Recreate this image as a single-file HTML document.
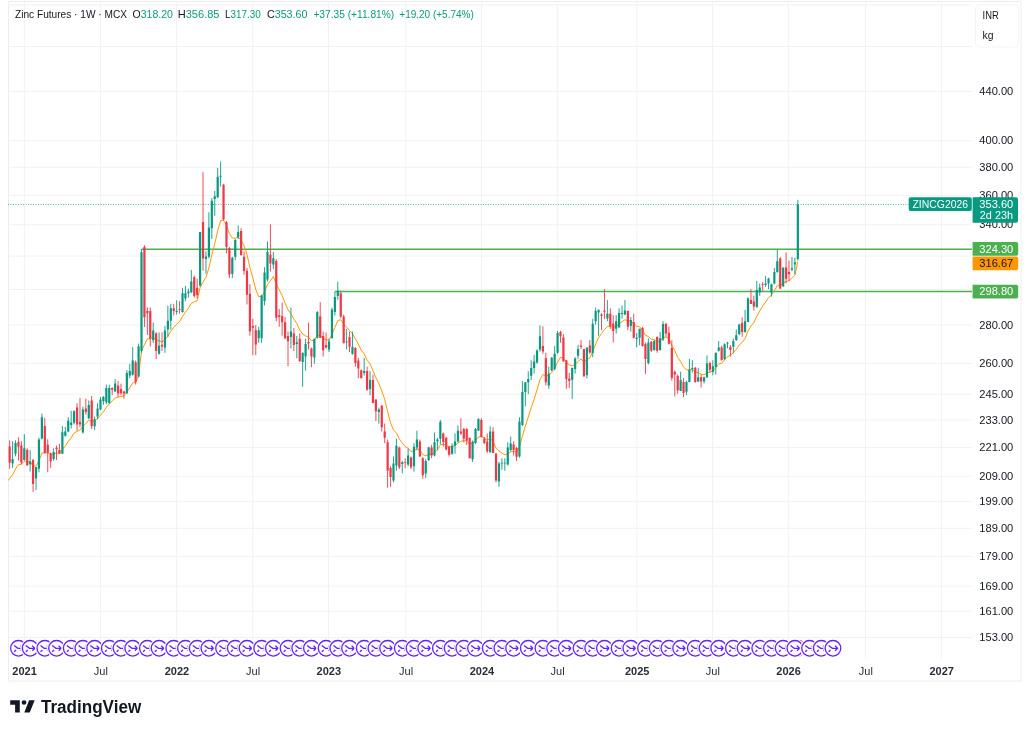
<!DOCTYPE html><html><head><meta charset="utf-8"><title>Zinc Futures 1W MCX</title><style>
html,body{margin:0;padding:0;background:#fff;width:1030px;height:731px;overflow:hidden}
body{position:relative;font-family:"Liberation Sans",Arial,sans-serif}
</style></head><body>
<svg width="1030" height="731" viewBox="0 0 1030 731" style="position:absolute;left:0;top:0">
<defs><clipPath id="pane"><rect x="8" y="1" width="964" height="658"/></clipPath></defs>
<rect x="8.5" y="1.5" width="1012.5" height="679.5" fill="#fff" stroke="#eceeed"/>
<path d="M8 5.15H972M8 46.52H972M8 91.50H972M8 140.77H972M8 167.28H972M8 195.23H972M8 224.77H972M8 256.11H972M8 289.47H972M8 325.13H972M8 363.44H972M8 394.15H972M8 420.11H972M8 447.44H972M8 476.30H972M8 501.64H972M8 528.29H972M8 556.39H972M8 586.11H972M8 611.18H972M8 637.52H972M24.30 1V659M100.60 1V659M176.70 1V659M252.80 1V659M328.50 1V659M405.80 1V659M481.60 1V659M557.30 1V659M636.90 1V659M712.60 1V659M788.30 1V659M865.60 1V659M941.40 1V659" stroke="#f0f2f1" stroke-width="1" fill="none"/>
<g clip-path="url(#pane)">
<line x1="8" y1="204.5" x2="908.7" y2="204.5" stroke="#089981" stroke-width="1" stroke-dasharray="1 1.5" stroke-opacity="0.7"/>
<line x1="141.50" y1="249.2" x2="972" y2="249.2" stroke="#4caf50" stroke-width="1.5"/>
<line x1="335" y1="291.5" x2="972" y2="291.5" stroke="#4caf50" stroke-width="1.5"/>
<polyline points="6.72,482.0 9.65,478.4 12.58,474.8 15.51,468.9 18.44,464.7 21.37,464.3 24.30,461.4 27.23,462.1 30.16,462.0 33.09,465.9 36.02,466.1 38.95,461.1 41.88,452.9 44.81,452.8 47.74,452.8 50.67,454.4 53.60,453.9 56.53,453.1 59.46,453.2 62.39,449.3 65.32,446.0 68.25,441.3 71.18,437.9 74.11,432.9 77.04,431.4 79.97,430.1 82.90,426.3 85.83,423.7 88.76,420.2 91.69,421.3 94.62,420.9 97.55,418.6 100.48,415.1 103.41,411.8 106.34,407.4 109.27,403.8 112.20,401.2 115.13,398.0 118.06,397.1 120.99,396.5 123.92,395.9 126.85,391.6 129.78,387.9 132.71,382.8 135.64,382.6 138.57,375.8 141.50,351.0 144.43,344.7 147.36,338.8 150.29,338.8 153.22,337.3 156.15,339.7 159.08,340.8 162.01,341.9 164.94,339.8 167.87,336.3 170.80,331.1 173.73,327.4 176.66,324.3 179.59,321.7 182.52,316.4 185.45,312.1 188.38,308.3 191.31,303.3 194.24,301.9 197.17,300.7 200.10,287.5 203.03,282.1 205.96,277.3 208.89,267.9 211.82,255.0 214.75,243.8 217.68,230.9 220.61,220.5 223.54,220.3 226.47,225.0 229.40,233.7 232.33,238.0 235.26,238.3 238.19,237.1 241.12,240.3 244.05,245.8 246.98,254.3 249.91,267.5 252.84,277.9 255.77,289.4 258.70,296.6 261.63,296.4 264.56,292.0 267.49,284.5 270.42,280.6 273.35,276.5 276.28,283.8 279.21,289.7 282.14,295.4 285.07,303.0 288.00,309.8 290.93,313.7 293.86,319.2 296.79,323.3 299.72,330.0 302.65,334.1 305.58,335.9 308.51,337.3 311.44,340.7 314.37,340.3 317.30,335.1 320.23,335.6 323.16,338.2 326.09,339.9 329.02,340.2 331.95,334.4 334.88,327.4 337.81,320.5 340.74,319.8 343.67,324.0 346.60,327.1 349.53,330.6 352.46,333.5 355.39,338.8 358.32,344.0 361.25,350.1 364.18,353.9 367.11,360.2 370.04,363.8 372.97,370.7 375.90,377.8 378.83,383.4 381.76,391.1 384.69,399.3 387.62,411.6 390.55,422.9 393.48,430.0 396.41,432.9 399.34,439.0 402.27,443.1 405.20,446.6 408.13,448.2 411.06,451.6 413.99,450.7 416.92,448.7 419.85,450.1 422.78,454.6 425.71,455.7 428.64,454.3 431.57,454.5 434.50,452.3 437.43,449.9 440.36,444.7 443.29,444.3 446.22,445.2 449.15,446.9 452.08,446.7 455.01,445.7 457.94,443.0 460.87,441.2 463.80,440.8 466.73,440.7 469.66,443.9 472.59,443.4 475.52,440.8 478.45,436.8 481.38,436.8 484.31,437.9 487.24,440.3 490.17,438.7 493.10,441.3 496.03,448.2 498.96,451.0 501.89,453.1 504.82,454.8 507.75,453.5 510.68,451.7 513.61,451.4 516.54,452.3 519.47,446.6 522.40,436.3 525.33,426.0 528.26,417.1 531.19,407.8 534.12,399.1 537.05,389.9 539.98,379.7 542.91,374.5 545.84,375.9 548.77,375.5 551.70,372.2 554.63,368.8 557.56,362.1 560.49,357.3 563.42,358.0 566.35,361.8 569.28,365.2 572.21,365.8 575.14,364.5 578.07,361.6 581.00,358.9 583.93,362.0 586.86,359.4 589.79,358.1 592.72,351.7 595.65,344.0 598.58,337.6 601.51,333.6 604.44,329.5 607.37,326.6 610.30,326.5 613.23,327.3 616.16,326.2 619.09,323.8 622.02,321.8 624.95,319.7 627.88,321.0 630.81,320.8 633.74,323.8 636.67,326.3 639.60,326.8 642.53,330.2 645.46,335.3 648.39,336.6 651.32,339.2 654.25,339.5 657.18,341.5 660.11,340.9 663.04,337.8 665.97,337.0 668.90,338.2 671.83,345.2 674.76,350.5 677.69,357.5 680.62,361.5 683.55,367.1 686.48,369.8 689.41,369.8 692.34,369.5 695.27,371.7 698.20,372.8 701.13,374.3 704.06,374.9 706.99,372.8 709.92,372.2 712.85,371.2 715.78,367.8 718.71,364.0 721.64,363.3 724.57,359.8 727.50,356.6 730.43,355.4 733.36,352.7 736.29,349.5 739.22,344.9 742.15,342.5 745.08,338.6 748.01,331.0 750.94,326.0 753.87,322.4 756.80,316.4 759.73,311.0 762.66,306.2 765.59,302.0 768.52,297.7 771.45,295.2 774.38,290.9 777.31,285.4 780.24,286.0 783.17,282.6 786.10,281.9 789.03,280.5 791.96,278.2 794.89,275.3 797.82,261.5" fill="none" stroke="#ff9800" stroke-width="1"/>
<path d="M12.58 441.2V467.9M15.51 440.3V456.3M24.30 434.1V460.7M30.16 450.1V471.4M36.02 467.0V490.1M38.95 437.6V472.3M41.88 413.6V439.4M53.60 448.3V460.7M62.39 426.0V453.6M65.32 426.9V436.7M68.25 417.2V432.3M71.18 410.8V428.6M74.11 410.3V424.5M82.90 406.7V433.4M88.76 400.5V419.2M94.62 416.5V429.9M97.55 403.2V419.2M100.48 396.9V410.3M103.41 396.0V404.9M106.34 384.5V404.1M109.27 384.5V404.1M115.13 379.1V391.6M126.85 370.2V393.4M129.78 364.0V378.3M132.71 347.1V375.6M138.57 343.6V377.4M141.50 249.2V352.8M153.22 322.5V343.0M159.08 332.3V354.6M164.94 326.1V352.8M167.87 305.6V336.8M170.80 303.8V329.6M176.66 300.3V314.5M182.52 287.8V312.7M185.45 286.0V301.2M188.38 288.7V297.6M191.31 270.0V293.2M200.10 231.9V286.8M205.96 251.4V273.7M208.89 212.3V258.5M211.82 198.0V239.0M214.75 190.9V215.8M217.68 167.8V198.0M220.61 161.6V186.5M232.33 256.8V278.1M235.26 239.0V260.3M238.19 225.6V239.0M258.70 326.8V342.8M261.63 294.7V342.8M264.56 267.2V305.4M267.49 241.4V281.4M273.35 252.0V268.9M290.93 307.6V348.5M296.79 336.0V358.3M302.65 352.1V386.8M305.58 338.7V370.7M314.37 338.7V363.6M317.30 311.1V338.7M329.02 338.7V352.1M331.95 307.6V338.7M334.88 291.6V315.6M337.81 281.8V299.6M346.60 328.9V349.4M352.46 331.6V354.7M364.18 357.8V375.6M370.04 371.1V395.2M378.83 407.6V423.6M393.48 456.5V482.3M396.41 438.7V470.7M402.27 461.0V473.4M408.13 448.5V466.3M413.99 443.2V471.6M416.92 430.7V450.3M425.71 459.2V477.9M428.64 446.7V461.0M434.50 432.5V456.5M437.43 437.8V450.3M440.36 420.0V444.1M452.08 443.2V454.7M455.01 433.4V453.8M457.94 425.4V442.3M472.59 440.5V461.9M475.52 428.0V444.1M478.45 418.3V430.7M490.17 426.3V453.0M498.96 461.9V486.8M501.89 458.3V469.9M504.82 458.3V470.7M507.75 442.3V465.4M510.68 436.5V451.2M519.47 417.2V457.7M522.40 381.1V426.0M525.33 382.2V406.3M528.26 371.3V394.3M531.19 360.3V380.0M534.12 354.9V373.5M537.05 349.4V363.6M539.98 325.3V351.6M548.77 366.9V388.8M551.70 357.1V371.3M554.63 346.1V370.2M557.56 330.8V353.8M572.21 367.5V398.9M575.14 357.2V373.6M578.07 344.9V359.2M586.86 347.6V378.4M592.72 318.9V357.2M595.65 307.6V324.7M598.58 309.7V335.7M607.37 300.1V321.3M616.16 315.1V333.6M619.09 308.3V327.5M622.02 305.6V318.6M624.95 300.1V315.1M630.81 317.2V331.6M636.67 332.9V347.3M639.60 328.8V345.2M648.39 338.4V364.4M654.25 339.8V350.7M660.11 332.1V350.6M663.04 321.2V341.0M680.62 371.8V391.0M686.48 380.7V395.1M689.41 358.8V382.1M692.34 360.2V372.5M698.20 367.7V382.1M704.06 376.6V383.4M706.99 355.4V378.0M712.85 360.2V375.2M715.78 352.7V374.6M718.71 341.0V351.6M724.57 343.4V360.0M727.50 341.8V348.3M733.36 338.5V353.3M736.29 329.5V341.0M739.22 323.7V335.2M745.08 309.8V332.7M748.01 297.5V322.1M756.80 281.0V307.3M759.73 283.5V295.8M765.59 276.1V286.8M768.52 277.8V289.2M771.45 283.5V296.6M774.38 267.9V284.3M777.31 249.8V272.8M783.17 267.5V287.1M791.96 257.0V271.3M794.89 257.7V274.3M797.82 199.8V260.5" stroke="#089981" stroke-width="0.9" fill="none"/><path d="M9.65 440.3V468.8M18.44 437.3V460.7M21.37 441.2V464.3M27.23 448.3V466.1M33.09 459.0V491.9M44.81 418.0V453.6M47.74 439.4V472.3M50.67 452.7V467.9M56.53 445.6V459.9M59.46 443.8V453.6M77.04 403.2V430.7M79.97 397.8V427.2M85.83 398.7V414.7M91.69 396.0V429.0M112.20 387.2V395.2M118.06 380.9V396.9M120.99 383.6V395.2M123.92 390.7V398.7M135.64 360.5V384.5M144.43 245.1V327.0M147.36 307.4V335.0M150.29 307.4V346.5M156.15 332.3V359.0M162.01 332.3V351.0M173.73 303.8V315.4M179.59 301.2V313.6M194.24 275.4V297.6M197.17 278.9V298.5M203.03 172.2V270.8M223.54 183.8V220.3M226.47 221.2V253.2M229.40 247.0V278.1M241.12 228.3V255.9M244.05 251.4V274.6M246.98 268.0V304.5M249.91 284.1V335.7M252.84 318.8V355.2M255.77 325.0V355.2M270.42 224.4V271.6M276.28 259.1V321.4M279.21 309.0V326.8M282.14 302.7V335.7M285.07 317.0V339.2M288.00 331.6V366.3M293.86 328.0V351.2M299.72 333.4V361.9M308.51 322.7V349.4M311.44 347.6V367.2M320.23 302.2V337.8M323.16 331.6V356.5M326.09 332.5V348.5M340.74 290.7V318.3M343.67 314.7V343.2M349.53 331.6V352.1M355.39 347.1V366.7M358.32 357.8V378.3M361.25 369.4V378.3M367.11 366.7V390.7M372.97 374.7V403.2M375.90 399.6V421.0M381.76 404.9V431.6M384.69 423.6V443.2M387.62 439.6V487.7M390.55 466.3V486.8M399.34 446.7V469.0M405.20 458.3V468.1M411.06 456.5V469.0M419.85 439.6V456.5M422.78 457.4V478.8M431.57 444.9V458.3M443.29 432.5V446.7M446.22 436.9V450.3M449.15 445.8V456.5M460.87 418.3V435.2M463.80 428.0V442.3M466.73 428.0V444.9M469.66 437.8V458.3M481.38 418.3V436.9M484.31 436.9V444.1M487.24 433.4V453.0M493.10 427.2V453.0M496.03 453.0V482.3M513.61 441.3V455.5M516.54 446.8V461.0M542.91 326.4V353.8M545.84 352.7V385.5M560.49 330.8V342.8M563.42 334.1V361.4M566.35 360.3V388.8M569.28 372.9V388.0M581.00 340.1V349.0M583.93 349.0V376.3M589.79 340.1V353.8M601.51 313.1V330.2M604.44 289.2V319.2M610.30 308.3V328.8M613.23 315.1V342.5M627.88 310.4V330.2M633.74 313.8V338.4M642.53 326.8V346.6M645.46 342.5V374.0M651.32 341.1V352.1M657.18 336.3V352.8M665.97 322.6V336.9M668.90 326.7V344.5M671.83 340.4V380.7M674.76 370.5V396.4M677.69 374.6V393.7M683.55 378.0V397.1M695.27 367.0V382.8M701.13 374.6V387.6M709.92 361.6V372.5M721.64 345.9V360.7M730.43 345.1V356.5M742.15 317.2V336.8M750.94 289.2V304.0M753.87 295.8V310.6M762.66 281.9V290.9M780.24 257.0V289.3M786.10 252.5V283.3M789.03 260.7V281.0" stroke="#f23645" stroke-width="0.9" fill="none"/><path d="M11.48 459.0h2.2v4.4h-2.2zM14.41 443.0h2.2v10.7h-2.2zM23.20 448.3h2.2v11.6h-2.2zM29.06 461.6h2.2v2.7h-2.2zM34.92 467.0h2.2v11.6h-2.2zM37.85 439.4h2.2v29.4h-2.2zM40.78 417.2h2.2v21.4h-2.2zM52.50 451.9h2.2v7.1h-2.2zM61.29 432.3h2.2v21.4h-2.2zM64.22 431.4h2.2v4.4h-2.2zM67.15 420.7h2.2v10.7h-2.2zM70.08 422.6h2.2v2.5h-2.2zM73.01 411.2h2.2v11.6h-2.2zM81.80 409.4h2.2v23.1h-2.2zM87.66 404.9h2.2v13.3h-2.2zM93.52 419.2h2.2v7.1h-2.2zM96.45 408.5h2.2v8.0h-2.2zM99.38 399.6h2.2v9.8h-2.2zM102.31 396.9h2.2v4.4h-2.2zM105.24 388.0h2.2v14.2h-2.2zM108.17 388.0h2.2v15.1h-2.2zM114.03 383.6h2.2v8.0h-2.2zM125.75 372.9h2.2v20.5h-2.2zM128.68 371.1h2.2v4.4h-2.2zM131.61 360.5h2.2v14.2h-2.2zM137.47 346.2h2.2v30.2h-2.2zM140.40 252.2h2.2v98.8h-2.2zM152.12 330.5h2.2v9.8h-2.2zM157.98 345.7h2.2v8.0h-2.2zM163.84 330.5h2.2v16.9h-2.2zM166.77 320.7h2.2v8.9h-2.2zM169.70 308.3h2.2v12.5h-2.2zM175.56 311.0h2.2v0.9h-2.2zM181.42 293.2h2.2v18.7h-2.2zM184.35 293.2h2.2v5.3h-2.2zM187.28 291.4h2.2v1.8h-2.2zM190.21 281.6h2.2v10.7h-2.2zM199.00 231.9h2.2v53.6h-2.2zM204.86 256.4h2.2v2.5h-2.2zM207.79 227.4h2.2v29.4h-2.2zM210.72 200.7h2.2v27.6h-2.2zM213.65 196.3h2.2v2.7h-2.2zM216.58 176.7h2.2v20.5h-2.2zM219.51 175.8h2.2v0.9h-2.2zM231.23 257.7h2.2v16.0h-2.2zM234.16 239.9h2.2v16.9h-2.2zM237.09 231.9h2.2v5.3h-2.2zM257.60 330.3h2.2v8.0h-2.2zM260.53 295.6h2.2v42.7h-2.2zM263.46 272.5h2.2v28.5h-2.2zM266.39 252.0h2.2v27.6h-2.2zM272.25 258.3h2.2v6.2h-2.2zM289.83 331.6h2.2v5.3h-2.2zM295.69 342.3h2.2v1.8h-2.2zM301.55 353.0h2.2v8.9h-2.2zM304.48 344.1h2.2v12.5h-2.2zM313.27 338.7h2.2v18.7h-2.2zM316.20 312.0h2.2v25.8h-2.2zM327.92 341.4h2.2v8.0h-2.2zM330.85 309.4h2.2v28.5h-2.2zM333.78 296.9h2.2v15.1h-2.2zM336.71 290.7h2.2v5.3h-2.2zM345.50 341.4h2.2v0.9h-2.2zM351.36 346.7h2.2v7.1h-2.2zM363.08 371.1h2.2v1.8h-2.2zM368.94 380.0h2.2v8.9h-2.2zM377.73 409.4h2.2v2.7h-2.2zM392.38 463.6h2.2v16.9h-2.2zM395.31 445.8h2.2v19.6h-2.2zM401.17 462.2h2.2v1.8h-2.2zM407.03 455.6h2.2v8.9h-2.2zM412.89 446.7h2.2v19.6h-2.2zM415.82 439.6h2.2v8.0h-2.2zM424.61 461.0h2.2v12.5h-2.2zM427.54 447.6h2.2v12.5h-2.2zM433.40 442.3h2.2v13.3h-2.2zM436.33 439.6h2.2v1.8h-2.2zM439.26 421.8h2.2v16.9h-2.2zM450.98 445.8h2.2v8.0h-2.2zM453.91 441.4h2.2v4.4h-2.2zM456.84 430.7h2.2v10.7h-2.2zM471.49 441.4h2.2v17.8h-2.2zM474.42 428.9h2.2v14.2h-2.2zM477.35 419.1h2.2v11.6h-2.2zM489.07 431.6h2.2v20.5h-2.2zM497.86 463.6h2.2v17.8h-2.2zM500.79 462.7h2.2v0.9h-2.2zM503.72 462.7h2.2v0.9h-2.2zM506.65 447.6h2.2v16.9h-2.2zM509.58 443.5h2.2v6.6h-2.2zM518.37 421.6h2.2v35.0h-2.2zM521.30 392.1h2.2v32.8h-2.2zM524.23 382.2h2.2v9.8h-2.2zM527.16 378.9h2.2v3.3h-2.2zM530.09 368.0h2.2v7.7h-2.2zM533.02 361.4h2.2v6.6h-2.2zM535.95 350.5h2.2v12.0h-2.2zM538.88 336.3h2.2v13.1h-2.2zM547.67 373.5h2.2v12.0h-2.2zM550.60 357.7h2.2v12.5h-2.2zM553.53 353.8h2.2v15.3h-2.2zM556.46 333.0h2.2v19.7h-2.2zM571.11 368.1h2.2v11.6h-2.2zM574.04 358.6h2.2v10.3h-2.2zM576.97 349.0h2.2v6.8h-2.2zM585.76 347.6h2.2v27.4h-2.2zM591.62 323.7h2.2v29.4h-2.2zM594.55 311.0h2.2v10.3h-2.2zM597.48 309.7h2.2v2.7h-2.2zM606.27 313.8h2.2v4.8h-2.2zM615.06 321.3h2.2v7.5h-2.2zM617.99 313.1h2.2v14.4h-2.2zM620.92 313.1h2.2v0.8h-2.2zM623.85 310.4h2.2v4.1h-2.2zM629.71 319.9h2.2v6.2h-2.2zM635.57 337.7h2.2v1.4h-2.2zM638.50 328.8h2.2v8.9h-2.2zM647.29 342.5h2.2v20.5h-2.2zM653.15 341.1h2.2v8.9h-2.2zM659.01 338.3h2.2v11.6h-2.2zM661.94 323.9h2.2v15.7h-2.2zM679.52 380.0h2.2v10.9h-2.2zM685.38 382.1h2.2v9.6h-2.2zM688.31 369.8h2.2v12.3h-2.2zM691.24 368.1h2.2v1.0h-2.2zM697.10 377.3h2.2v4.1h-2.2zM702.96 377.3h2.2v4.1h-2.2zM705.89 363.6h2.2v13.7h-2.2zM711.75 366.3h2.2v5.5h-2.2zM714.68 352.7h2.2v14.4h-2.2zM717.61 347.5h2.2v3.3h-2.2zM723.47 344.2h2.2v14.8h-2.2zM726.40 342.6h2.2v0.8h-2.2zM732.26 341.0h2.2v5.7h-2.2zM735.19 335.2h2.2v4.9h-2.2zM738.12 324.5h2.2v9.8h-2.2zM743.98 321.3h2.2v10.7h-2.2zM746.91 298.3h2.2v23.8h-2.2zM755.70 290.1h2.2v17.2h-2.2zM758.63 287.6h2.2v4.9h-2.2zM764.49 283.5h2.2v1.6h-2.2zM767.42 278.6h2.2v4.9h-2.2zM770.35 284.3h2.2v8.2h-2.2zM773.28 272.0h2.2v11.5h-2.2zM776.21 261.3h2.2v10.7h-2.2zM782.07 267.5h2.2v18.8h-2.2zM790.86 268.3h2.2v1.5h-2.2zM793.79 262.2h2.2v2.3h-2.2zM796.72 204.5h2.2v54.5h-2.2z" fill="#089981"/><path d="M8.55 446.5h2.2v16.0h-2.2zM17.34 442.1h2.2v4.4h-2.2zM20.27 445.6h2.2v16.9h-2.2zM26.13 450.1h2.2v15.1h-2.2zM31.99 459.9h2.2v24.0h-2.2zM43.71 426.0h2.2v26.7h-2.2zM46.64 444.7h2.2v8.0h-2.2zM49.57 453.6h2.2v8.0h-2.2zM55.43 447.8h2.2v1.4h-2.2zM58.36 450.1h2.2v3.6h-2.2zM75.94 407.6h2.2v16.9h-2.2zM78.87 421.9h2.2v2.7h-2.2zM84.73 408.5h2.2v3.6h-2.2zM90.59 400.5h2.2v25.8h-2.2zM111.10 388.0h2.2v1.8h-2.2zM116.96 385.4h2.2v8.0h-2.2zM119.89 388.9h2.2v4.4h-2.2zM122.82 391.6h2.2v1.8h-2.2zM134.54 362.2h2.2v19.6h-2.2zM143.33 246.9h2.2v70.3h-2.2zM146.26 311.0h2.2v2.3h-2.2zM149.19 311.0h2.2v27.6h-2.2zM155.05 333.2h2.2v17.8h-2.2zM160.91 344.8h2.2v1.8h-2.2zM172.63 308.3h2.2v2.7h-2.2zM178.49 309.2h2.2v0.9h-2.2zM193.14 277.2h2.2v18.7h-2.2zM196.07 287.8h2.2v7.1h-2.2zM201.93 222.1h2.2v36.5h-2.2zM222.44 184.7h2.2v34.7h-2.2zM225.37 222.1h2.2v24.9h-2.2zM228.30 247.9h2.2v26.7h-2.2zM240.02 231.0h2.2v24.0h-2.2zM242.95 256.8h2.2v14.2h-2.2zM245.88 270.7h2.2v24.0h-2.2zM248.81 293.8h2.2v37.4h-2.2zM251.74 325.9h2.2v1.8h-2.2zM254.67 330.3h2.2v14.2h-2.2zM269.32 254.7h2.2v8.9h-2.2zM275.18 260.9h2.2v56.9h-2.2zM278.11 315.2h2.2v1.8h-2.2zM281.04 316.1h2.2v6.2h-2.2zM283.97 322.3h2.2v16.0h-2.2zM286.90 336.0h2.2v5.3h-2.2zM292.76 333.4h2.2v11.6h-2.2zM298.62 338.7h2.2v22.2h-2.2zM307.41 341.9h2.2v1.6h-2.2zM310.34 348.5h2.2v8.0h-2.2zM319.13 316.5h2.2v21.4h-2.2zM322.06 336.0h2.2v14.2h-2.2zM324.99 344.9h2.2v2.7h-2.2zM339.64 293.3h2.2v23.1h-2.2zM342.57 316.5h2.2v26.7h-2.2zM348.43 336.9h2.2v9.8h-2.2zM354.29 348.0h2.2v15.1h-2.2zM357.22 360.5h2.2v8.0h-2.2zM360.15 370.2h2.2v8.0h-2.2zM366.01 371.1h2.2v18.7h-2.2zM371.87 380.0h2.2v23.1h-2.2zM374.80 399.6h2.2v11.6h-2.2zM380.66 405.8h2.2v21.4h-2.2zM383.59 431.6h2.2v6.2h-2.2zM386.52 442.3h2.2v28.5h-2.2zM389.45 468.1h2.2v8.9h-2.2zM398.24 447.6h2.2v19.6h-2.2zM404.10 461.9h2.2v0.9h-2.2zM409.96 457.4h2.2v9.8h-2.2zM418.75 441.4h2.2v15.1h-2.2zM421.68 458.3h2.2v16.9h-2.2zM430.47 447.6h2.2v8.0h-2.2zM442.19 433.4h2.2v8.9h-2.2zM445.12 437.8h2.2v11.6h-2.2zM448.05 446.7h2.2v8.0h-2.2zM459.77 431.6h2.2v1.8h-2.2zM462.70 428.9h2.2v9.8h-2.2zM465.63 428.9h2.2v11.6h-2.2zM468.56 437.8h2.2v20.5h-2.2zM480.28 420.0h2.2v16.9h-2.2zM483.21 438.7h2.2v4.4h-2.2zM486.14 441.4h2.2v9.8h-2.2zM492.00 431.6h2.2v21.4h-2.2zM494.93 453.8h2.2v26.7h-2.2zM512.51 444.6h2.2v5.5h-2.2zM515.44 447.9h2.2v8.8h-2.2zM541.81 346.1h2.2v5.5h-2.2zM544.74 358.2h2.2v24.1h-2.2zM559.39 331.9h2.2v4.4h-2.2zM562.32 337.4h2.2v24.1h-2.2zM565.25 360.3h2.2v18.6h-2.2zM568.18 378.4h2.2v2.7h-2.2zM579.90 345.6h2.2v1.4h-2.2zM582.83 349.0h2.2v27.4h-2.2zM588.69 345.6h2.2v6.8h-2.2zM600.41 314.5h2.2v1.4h-2.2zM603.34 310.4h2.2v1.4h-2.2zM609.20 313.8h2.2v12.3h-2.2zM612.13 323.4h2.2v7.5h-2.2zM626.78 311.0h2.2v15.7h-2.2zM632.64 322.0h2.2v15.7h-2.2zM641.43 328.1h2.2v17.8h-2.2zM644.36 343.9h2.2v15.0h-2.2zM650.22 341.8h2.2v8.9h-2.2zM656.08 337.0h2.2v13.7h-2.2zM664.87 323.9h2.2v9.6h-2.2zM667.80 332.8h2.2v10.9h-2.2zM670.73 347.9h2.2v30.1h-2.2zM673.66 371.8h2.2v2.7h-2.2zM676.59 375.9h2.2v14.4h-2.2zM682.45 382.1h2.2v10.9h-2.2zM694.17 367.7h2.2v14.4h-2.2zM700.03 377.3h2.2v4.1h-2.2zM708.82 362.9h2.2v6.8h-2.2zM720.54 347.5h2.2v12.5h-2.2zM729.33 346.7h2.2v3.3h-2.2zM741.05 322.9h2.2v9.0h-2.2zM749.84 299.9h2.2v4.1h-2.2zM752.77 301.6h2.2v4.9h-2.2zM761.56 284.3h2.2v0.8h-2.2zM779.14 258.5h2.2v30.1h-2.2zM785.00 267.5h2.2v11.3h-2.2zM787.93 272.0h2.2v2.3h-2.2z" fill="#f23645"/>
<circle cx="797.82" cy="648.3" r="7.8" fill="#fff" stroke="#d81b60" stroke-width="1.3"/><g transform="translate(18.44 648.3)"><circle r="9.7" fill="#fff" fill-opacity="0.93"/><circle r="7.8" fill="none" stroke="#6520ff" stroke-width="1.3"/><path d="M-4.3 -2.9L-0.6 0H4.5M2.1 -2.7L4.6 0L2.2 2.4M-4.3 3.4L-2.4 1.7" fill="none" stroke="#6520ff" stroke-width="1.3"/></g><g transform="translate(30.16 648.3)"><circle r="9.7" fill="#fff" fill-opacity="0.93"/><circle r="7.8" fill="none" stroke="#6520ff" stroke-width="1.3"/><path d="M-4.3 -2.9L-0.6 0H4.5M2.1 -2.7L4.6 0L2.2 2.4M-4.3 3.4L-2.4 1.7" fill="none" stroke="#6520ff" stroke-width="1.3"/></g><g transform="translate(44.81 648.3)"><circle r="9.7" fill="#fff" fill-opacity="0.93"/><circle r="7.8" fill="none" stroke="#6520ff" stroke-width="1.3"/><path d="M-4.3 -2.9L-0.6 0H4.5M2.1 -2.7L4.6 0L2.2 2.4M-4.3 3.4L-2.4 1.7" fill="none" stroke="#6520ff" stroke-width="1.3"/></g><g transform="translate(56.53 648.3)"><circle r="9.7" fill="#fff" fill-opacity="0.93"/><circle r="7.8" fill="none" stroke="#6520ff" stroke-width="1.3"/><path d="M-4.3 -2.9L-0.6 0H4.5M2.1 -2.7L4.6 0L2.2 2.4M-4.3 3.4L-2.4 1.7" fill="none" stroke="#6520ff" stroke-width="1.3"/></g><g transform="translate(71.18 648.3)"><circle r="9.7" fill="#fff" fill-opacity="0.93"/><circle r="7.8" fill="none" stroke="#6520ff" stroke-width="1.3"/><path d="M-4.3 -2.9L-0.6 0H4.5M2.1 -2.7L4.6 0L2.2 2.4M-4.3 3.4L-2.4 1.7" fill="none" stroke="#6520ff" stroke-width="1.3"/></g><g transform="translate(82.90 648.3)"><circle r="9.7" fill="#fff" fill-opacity="0.93"/><circle r="7.8" fill="none" stroke="#6520ff" stroke-width="1.3"/><path d="M-4.3 -2.9L-0.6 0H4.5M2.1 -2.7L4.6 0L2.2 2.4M-4.3 3.4L-2.4 1.7" fill="none" stroke="#6520ff" stroke-width="1.3"/></g><g transform="translate(94.62 648.3)"><circle r="9.7" fill="#fff" fill-opacity="0.93"/><circle r="7.8" fill="none" stroke="#6520ff" stroke-width="1.3"/><path d="M-4.3 -2.9L-0.6 0H4.5M2.1 -2.7L4.6 0L2.2 2.4M-4.3 3.4L-2.4 1.7" fill="none" stroke="#6520ff" stroke-width="1.3"/></g><g transform="translate(109.27 648.3)"><circle r="9.7" fill="#fff" fill-opacity="0.93"/><circle r="7.8" fill="none" stroke="#6520ff" stroke-width="1.3"/><path d="M-4.3 -2.9L-0.6 0H4.5M2.1 -2.7L4.6 0L2.2 2.4M-4.3 3.4L-2.4 1.7" fill="none" stroke="#6520ff" stroke-width="1.3"/></g><g transform="translate(120.99 648.3)"><circle r="9.7" fill="#fff" fill-opacity="0.93"/><circle r="7.8" fill="none" stroke="#6520ff" stroke-width="1.3"/><path d="M-4.3 -2.9L-0.6 0H4.5M2.1 -2.7L4.6 0L2.2 2.4M-4.3 3.4L-2.4 1.7" fill="none" stroke="#6520ff" stroke-width="1.3"/></g><g transform="translate(132.71 648.3)"><circle r="9.7" fill="#fff" fill-opacity="0.93"/><circle r="7.8" fill="none" stroke="#6520ff" stroke-width="1.3"/><path d="M-4.3 -2.9L-0.6 0H4.5M2.1 -2.7L4.6 0L2.2 2.4M-4.3 3.4L-2.4 1.7" fill="none" stroke="#6520ff" stroke-width="1.3"/></g><g transform="translate(147.36 648.3)"><circle r="9.7" fill="#fff" fill-opacity="0.93"/><circle r="7.8" fill="none" stroke="#6520ff" stroke-width="1.3"/><path d="M-4.3 -2.9L-0.6 0H4.5M2.1 -2.7L4.6 0L2.2 2.4M-4.3 3.4L-2.4 1.7" fill="none" stroke="#6520ff" stroke-width="1.3"/></g><g transform="translate(159.08 648.3)"><circle r="9.7" fill="#fff" fill-opacity="0.93"/><circle r="7.8" fill="none" stroke="#6520ff" stroke-width="1.3"/><path d="M-4.3 -2.9L-0.6 0H4.5M2.1 -2.7L4.6 0L2.2 2.4M-4.3 3.4L-2.4 1.7" fill="none" stroke="#6520ff" stroke-width="1.3"/></g><g transform="translate(173.73 648.3)"><circle r="9.7" fill="#fff" fill-opacity="0.93"/><circle r="7.8" fill="none" stroke="#6520ff" stroke-width="1.3"/><path d="M-4.3 -2.9L-0.6 0H4.5M2.1 -2.7L4.6 0L2.2 2.4M-4.3 3.4L-2.4 1.7" fill="none" stroke="#6520ff" stroke-width="1.3"/></g><g transform="translate(185.45 648.3)"><circle r="9.7" fill="#fff" fill-opacity="0.93"/><circle r="7.8" fill="none" stroke="#6520ff" stroke-width="1.3"/><path d="M-4.3 -2.9L-0.6 0H4.5M2.1 -2.7L4.6 0L2.2 2.4M-4.3 3.4L-2.4 1.7" fill="none" stroke="#6520ff" stroke-width="1.3"/></g><g transform="translate(197.17 648.3)"><circle r="9.7" fill="#fff" fill-opacity="0.93"/><circle r="7.8" fill="none" stroke="#6520ff" stroke-width="1.3"/><path d="M-4.3 -2.9L-0.6 0H4.5M2.1 -2.7L4.6 0L2.2 2.4M-4.3 3.4L-2.4 1.7" fill="none" stroke="#6520ff" stroke-width="1.3"/></g><g transform="translate(208.89 648.3)"><circle r="9.7" fill="#fff" fill-opacity="0.93"/><circle r="7.8" fill="none" stroke="#6520ff" stroke-width="1.3"/><path d="M-4.3 -2.9L-0.6 0H4.5M2.1 -2.7L4.6 0L2.2 2.4M-4.3 3.4L-2.4 1.7" fill="none" stroke="#6520ff" stroke-width="1.3"/></g><g transform="translate(223.54 648.3)"><circle r="9.7" fill="#fff" fill-opacity="0.93"/><circle r="7.8" fill="none" stroke="#6520ff" stroke-width="1.3"/><path d="M-4.3 -2.9L-0.6 0H4.5M2.1 -2.7L4.6 0L2.2 2.4M-4.3 3.4L-2.4 1.7" fill="none" stroke="#6520ff" stroke-width="1.3"/></g><g transform="translate(235.26 648.3)"><circle r="9.7" fill="#fff" fill-opacity="0.93"/><circle r="7.8" fill="none" stroke="#6520ff" stroke-width="1.3"/><path d="M-4.3 -2.9L-0.6 0H4.5M2.1 -2.7L4.6 0L2.2 2.4M-4.3 3.4L-2.4 1.7" fill="none" stroke="#6520ff" stroke-width="1.3"/></g><g transform="translate(246.98 648.3)"><circle r="9.7" fill="#fff" fill-opacity="0.93"/><circle r="7.8" fill="none" stroke="#6520ff" stroke-width="1.3"/><path d="M-4.3 -2.9L-0.6 0H4.5M2.1 -2.7L4.6 0L2.2 2.4M-4.3 3.4L-2.4 1.7" fill="none" stroke="#6520ff" stroke-width="1.3"/></g><g transform="translate(261.63 648.3)"><circle r="9.7" fill="#fff" fill-opacity="0.93"/><circle r="7.8" fill="none" stroke="#6520ff" stroke-width="1.3"/><path d="M-4.3 -2.9L-0.6 0H4.5M2.1 -2.7L4.6 0L2.2 2.4M-4.3 3.4L-2.4 1.7" fill="none" stroke="#6520ff" stroke-width="1.3"/></g><g transform="translate(273.35 648.3)"><circle r="9.7" fill="#fff" fill-opacity="0.93"/><circle r="7.8" fill="none" stroke="#6520ff" stroke-width="1.3"/><path d="M-4.3 -2.9L-0.6 0H4.5M2.1 -2.7L4.6 0L2.2 2.4M-4.3 3.4L-2.4 1.7" fill="none" stroke="#6520ff" stroke-width="1.3"/></g><g transform="translate(288.00 648.3)"><circle r="9.7" fill="#fff" fill-opacity="0.93"/><circle r="7.8" fill="none" stroke="#6520ff" stroke-width="1.3"/><path d="M-4.3 -2.9L-0.6 0H4.5M2.1 -2.7L4.6 0L2.2 2.4M-4.3 3.4L-2.4 1.7" fill="none" stroke="#6520ff" stroke-width="1.3"/></g><g transform="translate(299.72 648.3)"><circle r="9.7" fill="#fff" fill-opacity="0.93"/><circle r="7.8" fill="none" stroke="#6520ff" stroke-width="1.3"/><path d="M-4.3 -2.9L-0.6 0H4.5M2.1 -2.7L4.6 0L2.2 2.4M-4.3 3.4L-2.4 1.7" fill="none" stroke="#6520ff" stroke-width="1.3"/></g><g transform="translate(311.44 648.3)"><circle r="9.7" fill="#fff" fill-opacity="0.93"/><circle r="7.8" fill="none" stroke="#6520ff" stroke-width="1.3"/><path d="M-4.3 -2.9L-0.6 0H4.5M2.1 -2.7L4.6 0L2.2 2.4M-4.3 3.4L-2.4 1.7" fill="none" stroke="#6520ff" stroke-width="1.3"/></g><g transform="translate(326.09 648.3)"><circle r="9.7" fill="#fff" fill-opacity="0.93"/><circle r="7.8" fill="none" stroke="#6520ff" stroke-width="1.3"/><path d="M-4.3 -2.9L-0.6 0H4.5M2.1 -2.7L4.6 0L2.2 2.4M-4.3 3.4L-2.4 1.7" fill="none" stroke="#6520ff" stroke-width="1.3"/></g><g transform="translate(337.81 648.3)"><circle r="9.7" fill="#fff" fill-opacity="0.93"/><circle r="7.8" fill="none" stroke="#6520ff" stroke-width="1.3"/><path d="M-4.3 -2.9L-0.6 0H4.5M2.1 -2.7L4.6 0L2.2 2.4M-4.3 3.4L-2.4 1.7" fill="none" stroke="#6520ff" stroke-width="1.3"/></g><g transform="translate(349.53 648.3)"><circle r="9.7" fill="#fff" fill-opacity="0.93"/><circle r="7.8" fill="none" stroke="#6520ff" stroke-width="1.3"/><path d="M-4.3 -2.9L-0.6 0H4.5M2.1 -2.7L4.6 0L2.2 2.4M-4.3 3.4L-2.4 1.7" fill="none" stroke="#6520ff" stroke-width="1.3"/></g><g transform="translate(364.18 648.3)"><circle r="9.7" fill="#fff" fill-opacity="0.93"/><circle r="7.8" fill="none" stroke="#6520ff" stroke-width="1.3"/><path d="M-4.3 -2.9L-0.6 0H4.5M2.1 -2.7L4.6 0L2.2 2.4M-4.3 3.4L-2.4 1.7" fill="none" stroke="#6520ff" stroke-width="1.3"/></g><g transform="translate(375.90 648.3)"><circle r="9.7" fill="#fff" fill-opacity="0.93"/><circle r="7.8" fill="none" stroke="#6520ff" stroke-width="1.3"/><path d="M-4.3 -2.9L-0.6 0H4.5M2.1 -2.7L4.6 0L2.2 2.4M-4.3 3.4L-2.4 1.7" fill="none" stroke="#6520ff" stroke-width="1.3"/></g><g transform="translate(387.62 648.3)"><circle r="9.7" fill="#fff" fill-opacity="0.93"/><circle r="7.8" fill="none" stroke="#6520ff" stroke-width="1.3"/><path d="M-4.3 -2.9L-0.6 0H4.5M2.1 -2.7L4.6 0L2.2 2.4M-4.3 3.4L-2.4 1.7" fill="none" stroke="#6520ff" stroke-width="1.3"/></g><g transform="translate(402.27 648.3)"><circle r="9.7" fill="#fff" fill-opacity="0.93"/><circle r="7.8" fill="none" stroke="#6520ff" stroke-width="1.3"/><path d="M-4.3 -2.9L-0.6 0H4.5M2.1 -2.7L4.6 0L2.2 2.4M-4.3 3.4L-2.4 1.7" fill="none" stroke="#6520ff" stroke-width="1.3"/></g><g transform="translate(413.99 648.3)"><circle r="9.7" fill="#fff" fill-opacity="0.93"/><circle r="7.8" fill="none" stroke="#6520ff" stroke-width="1.3"/><path d="M-4.3 -2.9L-0.6 0H4.5M2.1 -2.7L4.6 0L2.2 2.4M-4.3 3.4L-2.4 1.7" fill="none" stroke="#6520ff" stroke-width="1.3"/></g><g transform="translate(425.71 648.3)"><circle r="9.7" fill="#fff" fill-opacity="0.93"/><circle r="7.8" fill="none" stroke="#6520ff" stroke-width="1.3"/><path d="M-4.3 -2.9L-0.6 0H4.5M2.1 -2.7L4.6 0L2.2 2.4M-4.3 3.4L-2.4 1.7" fill="none" stroke="#6520ff" stroke-width="1.3"/></g><g transform="translate(440.36 648.3)"><circle r="9.7" fill="#fff" fill-opacity="0.93"/><circle r="7.8" fill="none" stroke="#6520ff" stroke-width="1.3"/><path d="M-4.3 -2.9L-0.6 0H4.5M2.1 -2.7L4.6 0L2.2 2.4M-4.3 3.4L-2.4 1.7" fill="none" stroke="#6520ff" stroke-width="1.3"/></g><g transform="translate(452.08 648.3)"><circle r="9.7" fill="#fff" fill-opacity="0.93"/><circle r="7.8" fill="none" stroke="#6520ff" stroke-width="1.3"/><path d="M-4.3 -2.9L-0.6 0H4.5M2.1 -2.7L4.6 0L2.2 2.4M-4.3 3.4L-2.4 1.7" fill="none" stroke="#6520ff" stroke-width="1.3"/></g><g transform="translate(463.80 648.3)"><circle r="9.7" fill="#fff" fill-opacity="0.93"/><circle r="7.8" fill="none" stroke="#6520ff" stroke-width="1.3"/><path d="M-4.3 -2.9L-0.6 0H4.5M2.1 -2.7L4.6 0L2.2 2.4M-4.3 3.4L-2.4 1.7" fill="none" stroke="#6520ff" stroke-width="1.3"/></g><g transform="translate(475.52 648.3)"><circle r="9.7" fill="#fff" fill-opacity="0.93"/><circle r="7.8" fill="none" stroke="#6520ff" stroke-width="1.3"/><path d="M-4.3 -2.9L-0.6 0H4.5M2.1 -2.7L4.6 0L2.2 2.4M-4.3 3.4L-2.4 1.7" fill="none" stroke="#6520ff" stroke-width="1.3"/></g><g transform="translate(490.17 648.3)"><circle r="9.7" fill="#fff" fill-opacity="0.93"/><circle r="7.8" fill="none" stroke="#6520ff" stroke-width="1.3"/><path d="M-4.3 -2.9L-0.6 0H4.5M2.1 -2.7L4.6 0L2.2 2.4M-4.3 3.4L-2.4 1.7" fill="none" stroke="#6520ff" stroke-width="1.3"/></g><g transform="translate(501.89 648.3)"><circle r="9.7" fill="#fff" fill-opacity="0.93"/><circle r="7.8" fill="none" stroke="#6520ff" stroke-width="1.3"/><path d="M-4.3 -2.9L-0.6 0H4.5M2.1 -2.7L4.6 0L2.2 2.4M-4.3 3.4L-2.4 1.7" fill="none" stroke="#6520ff" stroke-width="1.3"/></g><g transform="translate(513.61 648.3)"><circle r="9.7" fill="#fff" fill-opacity="0.93"/><circle r="7.8" fill="none" stroke="#6520ff" stroke-width="1.3"/><path d="M-4.3 -2.9L-0.6 0H4.5M2.1 -2.7L4.6 0L2.2 2.4M-4.3 3.4L-2.4 1.7" fill="none" stroke="#6520ff" stroke-width="1.3"/></g><g transform="translate(528.26 648.3)"><circle r="9.7" fill="#fff" fill-opacity="0.93"/><circle r="7.8" fill="none" stroke="#6520ff" stroke-width="1.3"/><path d="M-4.3 -2.9L-0.6 0H4.5M2.1 -2.7L4.6 0L2.2 2.4M-4.3 3.4L-2.4 1.7" fill="none" stroke="#6520ff" stroke-width="1.3"/></g><g transform="translate(542.91 648.3)"><circle r="9.7" fill="#fff" fill-opacity="0.93"/><circle r="7.8" fill="none" stroke="#6520ff" stroke-width="1.3"/><path d="M-4.3 -2.9L-0.6 0H4.5M2.1 -2.7L4.6 0L2.2 2.4M-4.3 3.4L-2.4 1.7" fill="none" stroke="#6520ff" stroke-width="1.3"/></g><g transform="translate(554.63 648.3)"><circle r="9.7" fill="#fff" fill-opacity="0.93"/><circle r="7.8" fill="none" stroke="#6520ff" stroke-width="1.3"/><path d="M-4.3 -2.9L-0.6 0H4.5M2.1 -2.7L4.6 0L2.2 2.4M-4.3 3.4L-2.4 1.7" fill="none" stroke="#6520ff" stroke-width="1.3"/></g><g transform="translate(566.35 648.3)"><circle r="9.7" fill="#fff" fill-opacity="0.93"/><circle r="7.8" fill="none" stroke="#6520ff" stroke-width="1.3"/><path d="M-4.3 -2.9L-0.6 0H4.5M2.1 -2.7L4.6 0L2.2 2.4M-4.3 3.4L-2.4 1.7" fill="none" stroke="#6520ff" stroke-width="1.3"/></g><g transform="translate(581.00 648.3)"><circle r="9.7" fill="#fff" fill-opacity="0.93"/><circle r="7.8" fill="none" stroke="#6520ff" stroke-width="1.3"/><path d="M-4.3 -2.9L-0.6 0H4.5M2.1 -2.7L4.6 0L2.2 2.4M-4.3 3.4L-2.4 1.7" fill="none" stroke="#6520ff" stroke-width="1.3"/></g><g transform="translate(592.72 648.3)"><circle r="9.7" fill="#fff" fill-opacity="0.93"/><circle r="7.8" fill="none" stroke="#6520ff" stroke-width="1.3"/><path d="M-4.3 -2.9L-0.6 0H4.5M2.1 -2.7L4.6 0L2.2 2.4M-4.3 3.4L-2.4 1.7" fill="none" stroke="#6520ff" stroke-width="1.3"/></g><g transform="translate(604.44 648.3)"><circle r="9.7" fill="#fff" fill-opacity="0.93"/><circle r="7.8" fill="none" stroke="#6520ff" stroke-width="1.3"/><path d="M-4.3 -2.9L-0.6 0H4.5M2.1 -2.7L4.6 0L2.2 2.4M-4.3 3.4L-2.4 1.7" fill="none" stroke="#6520ff" stroke-width="1.3"/></g><g transform="translate(619.09 648.3)"><circle r="9.7" fill="#fff" fill-opacity="0.93"/><circle r="7.8" fill="none" stroke="#6520ff" stroke-width="1.3"/><path d="M-4.3 -2.9L-0.6 0H4.5M2.1 -2.7L4.6 0L2.2 2.4M-4.3 3.4L-2.4 1.7" fill="none" stroke="#6520ff" stroke-width="1.3"/></g><g transform="translate(630.81 648.3)"><circle r="9.7" fill="#fff" fill-opacity="0.93"/><circle r="7.8" fill="none" stroke="#6520ff" stroke-width="1.3"/><path d="M-4.3 -2.9L-0.6 0H4.5M2.1 -2.7L4.6 0L2.2 2.4M-4.3 3.4L-2.4 1.7" fill="none" stroke="#6520ff" stroke-width="1.3"/></g><g transform="translate(645.46 648.3)"><circle r="9.7" fill="#fff" fill-opacity="0.93"/><circle r="7.8" fill="none" stroke="#6520ff" stroke-width="1.3"/><path d="M-4.3 -2.9L-0.6 0H4.5M2.1 -2.7L4.6 0L2.2 2.4M-4.3 3.4L-2.4 1.7" fill="none" stroke="#6520ff" stroke-width="1.3"/></g><g transform="translate(657.18 648.3)"><circle r="9.7" fill="#fff" fill-opacity="0.93"/><circle r="7.8" fill="none" stroke="#6520ff" stroke-width="1.3"/><path d="M-4.3 -2.9L-0.6 0H4.5M2.1 -2.7L4.6 0L2.2 2.4M-4.3 3.4L-2.4 1.7" fill="none" stroke="#6520ff" stroke-width="1.3"/></g><g transform="translate(668.90 648.3)"><circle r="9.7" fill="#fff" fill-opacity="0.93"/><circle r="7.8" fill="none" stroke="#6520ff" stroke-width="1.3"/><path d="M-4.3 -2.9L-0.6 0H4.5M2.1 -2.7L4.6 0L2.2 2.4M-4.3 3.4L-2.4 1.7" fill="none" stroke="#6520ff" stroke-width="1.3"/></g><g transform="translate(680.62 648.3)"><circle r="9.7" fill="#fff" fill-opacity="0.93"/><circle r="7.8" fill="none" stroke="#6520ff" stroke-width="1.3"/><path d="M-4.3 -2.9L-0.6 0H4.5M2.1 -2.7L4.6 0L2.2 2.4M-4.3 3.4L-2.4 1.7" fill="none" stroke="#6520ff" stroke-width="1.3"/></g><g transform="translate(695.27 648.3)"><circle r="9.7" fill="#fff" fill-opacity="0.93"/><circle r="7.8" fill="none" stroke="#6520ff" stroke-width="1.3"/><path d="M-4.3 -2.9L-0.6 0H4.5M2.1 -2.7L4.6 0L2.2 2.4M-4.3 3.4L-2.4 1.7" fill="none" stroke="#6520ff" stroke-width="1.3"/></g><g transform="translate(706.99 648.3)"><circle r="9.7" fill="#fff" fill-opacity="0.93"/><circle r="7.8" fill="none" stroke="#6520ff" stroke-width="1.3"/><path d="M-4.3 -2.9L-0.6 0H4.5M2.1 -2.7L4.6 0L2.2 2.4M-4.3 3.4L-2.4 1.7" fill="none" stroke="#6520ff" stroke-width="1.3"/></g><g transform="translate(718.71 648.3)"><circle r="9.7" fill="#fff" fill-opacity="0.93"/><circle r="7.8" fill="none" stroke="#6520ff" stroke-width="1.3"/><path d="M-4.3 -2.9L-0.6 0H4.5M2.1 -2.7L4.6 0L2.2 2.4M-4.3 3.4L-2.4 1.7" fill="none" stroke="#6520ff" stroke-width="1.3"/></g><g transform="translate(733.36 648.3)"><circle r="9.7" fill="#fff" fill-opacity="0.93"/><circle r="7.8" fill="none" stroke="#6520ff" stroke-width="1.3"/><path d="M-4.3 -2.9L-0.6 0H4.5M2.1 -2.7L4.6 0L2.2 2.4M-4.3 3.4L-2.4 1.7" fill="none" stroke="#6520ff" stroke-width="1.3"/></g><g transform="translate(745.08 648.3)"><circle r="9.7" fill="#fff" fill-opacity="0.93"/><circle r="7.8" fill="none" stroke="#6520ff" stroke-width="1.3"/><path d="M-4.3 -2.9L-0.6 0H4.5M2.1 -2.7L4.6 0L2.2 2.4M-4.3 3.4L-2.4 1.7" fill="none" stroke="#6520ff" stroke-width="1.3"/></g><g transform="translate(759.73 648.3)"><circle r="9.7" fill="#fff" fill-opacity="0.93"/><circle r="7.8" fill="none" stroke="#6520ff" stroke-width="1.3"/><path d="M-4.3 -2.9L-0.6 0H4.5M2.1 -2.7L4.6 0L2.2 2.4M-4.3 3.4L-2.4 1.7" fill="none" stroke="#6520ff" stroke-width="1.3"/></g><g transform="translate(771.45 648.3)"><circle r="9.7" fill="#fff" fill-opacity="0.93"/><circle r="7.8" fill="none" stroke="#6520ff" stroke-width="1.3"/><path d="M-4.3 -2.9L-0.6 0H4.5M2.1 -2.7L4.6 0L2.2 2.4M-4.3 3.4L-2.4 1.7" fill="none" stroke="#6520ff" stroke-width="1.3"/></g><g transform="translate(783.17 648.3)"><circle r="9.7" fill="#fff" fill-opacity="0.93"/><circle r="7.8" fill="none" stroke="#6520ff" stroke-width="1.3"/><path d="M-4.3 -2.9L-0.6 0H4.5M2.1 -2.7L4.6 0L2.2 2.4M-4.3 3.4L-2.4 1.7" fill="none" stroke="#6520ff" stroke-width="1.3"/></g><g transform="translate(794.89 648.3)"><circle r="9.7" fill="#fff" fill-opacity="0.93"/><circle r="7.8" fill="none" stroke="#6520ff" stroke-width="1.3"/><path d="M-4.3 -2.9L-0.6 0H4.5M2.1 -2.7L4.6 0L2.2 2.4M-4.3 3.4L-2.4 1.7" fill="none" stroke="#6520ff" stroke-width="1.3"/></g><g transform="translate(809.54 648.3)"><circle r="9.7" fill="#fff" fill-opacity="0.93"/><circle r="7.8" fill="none" stroke="#6520ff" stroke-width="1.3"/><path d="M-4.3 -2.9L-0.6 0H4.5M2.1 -2.7L4.6 0L2.2 2.4M-4.3 3.4L-2.4 1.7" fill="none" stroke="#6520ff" stroke-width="1.3"/></g><g transform="translate(821.26 648.3)"><circle r="9.7" fill="#fff" fill-opacity="0.93"/><circle r="7.8" fill="none" stroke="#6520ff" stroke-width="1.3"/><path d="M-4.3 -2.9L-0.6 0H4.5M2.1 -2.7L4.6 0L2.2 2.4M-4.3 3.4L-2.4 1.7" fill="none" stroke="#6520ff" stroke-width="1.3"/></g><g transform="translate(832.98 648.3)"><circle r="9.7" fill="#fff" fill-opacity="0.93"/><circle r="7.8" fill="none" stroke="#6520ff" stroke-width="1.3"/><path d="M-4.3 -2.9L-0.6 0H4.5M2.1 -2.7L4.6 0L2.2 2.4M-4.3 3.4L-2.4 1.7" fill="none" stroke="#6520ff" stroke-width="1.3"/></g>
</g>
<g font-size="10.4" font-family="Liberation Sans, Arial, sans-serif"><text x="15.0" y="18.3" fill="#131722" textLength="112.0" lengthAdjust="spacingAndGlyphs">Zinc Futures · 1W · MCX</text><text x="132.5" y="18.3" textLength="40.4" lengthAdjust="spacingAndGlyphs"><tspan fill="#131722">O</tspan><tspan fill="#089981">318.20</tspan></text><text x="177.7" y="18.3" textLength="41.8" lengthAdjust="spacingAndGlyphs"><tspan fill="#131722">H</tspan><tspan fill="#089981">356.85</tspan></text><text x="224.9" y="18.3" textLength="35.8" lengthAdjust="spacingAndGlyphs"><tspan fill="#131722">L</tspan><tspan fill="#089981">317.30</tspan></text><text x="266.9" y="18.3" textLength="40.6" lengthAdjust="spacingAndGlyphs"><tspan fill="#131722">C</tspan><tspan fill="#089981">353.60</tspan></text><text x="313.4" y="18.3" fill="#089981" textLength="80.8" lengthAdjust="spacingAndGlyphs">+37.35 (+11.81%)</text><text x="399.3" y="18.3" fill="#089981" textLength="74.5" lengthAdjust="spacingAndGlyphs">+19.20 (+5.74%)</text></g>
<g font-size="10.1" fill="#131722" font-family="Liberation Sans, Arial, sans-serif"><text x="1013.3" y="50.1" text-anchor="end" textLength="34" lengthAdjust="spacingAndGlyphs">480.00</text><text x="1013.3" y="95.1" text-anchor="end" textLength="34" lengthAdjust="spacingAndGlyphs">440.00</text><text x="1013.3" y="144.4" text-anchor="end" textLength="34" lengthAdjust="spacingAndGlyphs">400.00</text><text x="1013.3" y="170.9" text-anchor="end" textLength="34" lengthAdjust="spacingAndGlyphs">380.00</text><text x="1013.3" y="198.8" text-anchor="end" textLength="34" lengthAdjust="spacingAndGlyphs">360.00</text><text x="1013.3" y="228.4" text-anchor="end" textLength="34" lengthAdjust="spacingAndGlyphs">340.00</text><text x="1013.3" y="328.7" text-anchor="end" textLength="34" lengthAdjust="spacingAndGlyphs">280.00</text><text x="1013.3" y="367.0" text-anchor="end" textLength="34" lengthAdjust="spacingAndGlyphs">260.00</text><text x="1013.3" y="397.8" text-anchor="end" textLength="34" lengthAdjust="spacingAndGlyphs">245.00</text><text x="1013.3" y="423.7" text-anchor="end" textLength="34" lengthAdjust="spacingAndGlyphs">233.00</text><text x="1013.3" y="451.0" text-anchor="end" textLength="34" lengthAdjust="spacingAndGlyphs">221.00</text><text x="1013.3" y="479.9" text-anchor="end" textLength="34" lengthAdjust="spacingAndGlyphs">209.00</text><text x="1013.3" y="505.2" text-anchor="end" textLength="34" lengthAdjust="spacingAndGlyphs">199.00</text><text x="1013.3" y="531.9" text-anchor="end" textLength="34" lengthAdjust="spacingAndGlyphs">189.00</text><text x="1013.3" y="560.0" text-anchor="end" textLength="34" lengthAdjust="spacingAndGlyphs">179.00</text><text x="1013.3" y="589.7" text-anchor="end" textLength="34" lengthAdjust="spacingAndGlyphs">169.00</text><text x="1013.3" y="614.8" text-anchor="end" textLength="34" lengthAdjust="spacingAndGlyphs">161.00</text><text x="1013.3" y="641.1" text-anchor="end" textLength="34" lengthAdjust="spacingAndGlyphs">153.00</text></g>
<rect x="973" y="3" width="47" height="47.1" fill="#fff"/><rect x="975.5" y="4.8" width="43" height="42.2" rx="4" fill="#fff" stroke="#f0f1f3" stroke-width="0.8"/><g font-size="10.4" fill="#131722" font-family="Liberation Sans, Arial, sans-serif"><text x="982.6" y="18.9" textLength="16.2" lengthAdjust="spacingAndGlyphs">INR</text><text x="982.6" y="38.6">kg</text></g>
<g font-size="10.4" font-family="Liberation Sans, Arial, sans-serif"><rect x="908.7" y="197.3" width="63.1" height="13.6" rx="2" fill="#089981"/><text x="912.4" y="207.7" fill="#fff" textLength="55.8" lengthAdjust="spacingAndGlyphs">ZINCG2026</text><path d="M972.6 197.3H1016a2 2 0 0 1 2 2V220.8a2 2 0 0 1 -2 2H972.6Z" fill="#089981"/><text x="1013.3" y="207.9" text-anchor="end" fill="#fff" textLength="34" lengthAdjust="spacingAndGlyphs">353.60</text><text x="1013.0" y="219.0" text-anchor="end" fill="#fff" textLength="33.2" lengthAdjust="spacingAndGlyphs">2d 23h</text><path d="M972.6 242.1H1016.2a2 2 0 0 1 2 2V253.8a2 2 0 0 1 -2 2H972.6Z" fill="#4caf50"/><text x="1013.3" y="252.5" text-anchor="end" fill="#fff" textLength="34" lengthAdjust="spacingAndGlyphs">324.30</text><path d="M972.6 256.6H1016.2a2 2 0 0 1 2 2V268.2a2 2 0 0 1 -2 2H972.6Z" fill="#ff9800"/><text x="1013.3" y="267.0" text-anchor="end" fill="#131722" textLength="34" lengthAdjust="spacingAndGlyphs">316.67</text><path d="M972.6 284.7H1016.2a2 2 0 0 1 2 2V296.6a2 2 0 0 1 -2 2H972.6Z" fill="#4caf50"/><text x="1013.3" y="295.2" text-anchor="end" fill="#fff" textLength="34" lengthAdjust="spacingAndGlyphs">298.80</text></g>
<g font-size="11" fill="#2a2e39" font-family="Liberation Sans, Arial, sans-serif"><text x="24.6" y="674.8" text-anchor="middle" font-weight="bold">2021</text><text x="100.9" y="674.8" text-anchor="middle">Jul</text><text x="177.0" y="674.8" text-anchor="middle" font-weight="bold">2022</text><text x="253.1" y="674.8" text-anchor="middle">Jul</text><text x="328.8" y="674.8" text-anchor="middle" font-weight="bold">2023</text><text x="406.1" y="674.8" text-anchor="middle">Jul</text><text x="481.9" y="674.8" text-anchor="middle" font-weight="bold">2024</text><text x="557.6" y="674.8" text-anchor="middle">Jul</text><text x="637.2" y="674.8" text-anchor="middle" font-weight="bold">2025</text><text x="712.9" y="674.8" text-anchor="middle">Jul</text><text x="788.6" y="674.8" text-anchor="middle" font-weight="bold">2026</text><text x="865.9" y="674.8" text-anchor="middle">Jul</text><text x="941.7" y="674.8" text-anchor="middle" font-weight="bold">2027</text></g>
<g fill="#131722"><path d="M10.2 700.2H19.8V712.4H15.1V704.7H10.2Z"/><circle cx="24.0" cy="702.5" r="2.35"/><path d="M29.1 700.2H34.7L29.7 712.4H24.3Z"/></g><text x="40.9" y="712.8" font-size="17.5" font-weight="bold" fill="#131722" font-family="Liberation Sans, Arial, sans-serif" textLength="100.3" lengthAdjust="spacingAndGlyphs">TradingView</text>
</svg>
</body></html>
